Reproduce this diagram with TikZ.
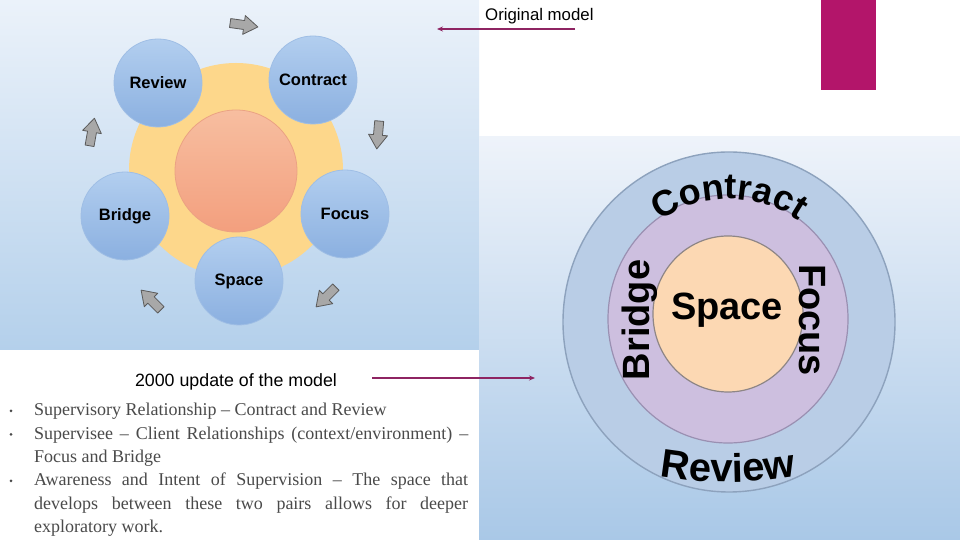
\documentclass[tikz,border=0pt]{standalone}
\usepackage{fontspec}
\setmainfont{Liberation Serif}
\setsansfont{Liberation Sans}
\usetikzlibrary{arrows.meta,decorations.text,calc,shapes.geometric}
\definecolor{leftTop}{HTML}{EBF2FA}
\definecolor{leftBot}{HTML}{B4D0EB}
\definecolor{rightTop}{HTML}{EEF3FA}
\definecolor{rightBot}{HTML}{A9C8E7}
\definecolor{magbar}{HTML}{B3156A}
\definecolor{arrowc}{HTML}{8E2462}
\definecolor{sunc}{HTML}{FDD78B}
\definecolor{coreTop}{HTML}{F7BEA0}
\definecolor{coreBot}{HTML}{F39F7E}
\definecolor{coreD}{HTML}{EBA283}
\definecolor{blueTop}{HTML}{B2CEEF}
\definecolor{blueBot}{HTML}{8BB0E0}
\definecolor{blueD}{HTML}{9FBEE5}
\definecolor{garrowF}{HTML}{A8A8A8}
\definecolor{garrowD}{HTML}{5A5A5A}
\definecolor{ringBlue}{HTML}{B9CDE6}
\definecolor{ringBlueD}{HTML}{8DA2BD}
\definecolor{ringPurple}{HTML}{CDBFDF}
\definecolor{ringPurpleD}{HTML}{9A90B2}
\definecolor{ringOrange}{HTML}{FCD8B3}
\definecolor{ringOrangeD}{HTML}{8E8686}
\definecolor{textgray}{HTML}{4A4A4A}
\begin{document}
\begin{tikzpicture}[x=1pt,y=1pt,
  bluec/.style={circle, minimum size=88pt, inner sep=0pt, top color=blueTop, bottom color=blueBot, draw=blueD, line width=0.8pt, font=\sffamily\bfseries\fontsize{16.5}{17}\selectfont},
  garrow/.style={fill=garrowF, draw=garrowD, line width=0.8pt, line join=round},
  bigword/.style={font=\sffamily\bfseries\fontsize{38}{40}\selectfont},
  bullettext/.style={text width=434pt, align=justify, inner sep=0pt, text=textgray, font=\fontsize{18}{23.3}\selectfont, execute at begin node={\hyphenpenalty=10000\exhyphenpenalty=10000\relax}},
  bulletdot/.style={circle, fill=textgray, inner sep=0pt, minimum size=3pt},
  pointer/.style={draw=arrowc, line width=1.5pt, -{Stealth[length=6pt,width=5pt]}},
  caption/.style={inner sep=0pt, font=\sffamily}
]
\useasboundingbox (0,0) rectangle (960,540);
\fill[white] (0,0) rectangle (960,540);
% backgrounds
\shade[top color=leftTop, bottom color=leftBot] (0,190) rectangle (479,540);
\shade[top color=rightTop, bottom color=rightBot] (479,0) rectangle (960,403);
\fill[magbar] (821,450) rectangle (876,540);

% ---------- original model ----------
\node[circle, minimum size=214pt, inner sep=0pt, fill=sunc] (sun) at (236,370) {};
\node[circle, minimum size=122pt, inner sep=0pt, top color=coreTop, bottom color=coreBot, draw=coreD, line width=0.8pt] (core) at (236,369) {};
\node[bluec] (review) at (158,457) {Review};
\node[bluec] (contract) at (313,460) {Contract};
\node[bluec] (bridge) at (125,324) {Bridge};
\node[bluec] (focus) at (345,326) {Focus};
\node[bluec] (space) at (239,259) {Space};

% grey cycle arrows
\foreach \px/\py/\ang in {244/515/-8, 378/405/-95, 326/243/-135, 151/240/135, 92/408/80}{
  \draw[garrow, shift={(\px,\py)}, rotate=\ang]
    (-14,-4.5) -- (0,-4.5) -- (0,-9.5) -- (14,0) -- (0,9.5) -- (0,4.5) -- (-14,4.5) -- cycle;
}

% ---------- 2000 update ----------
\node[ellipse, minimum width=332pt, minimum height=340pt, inner sep=0pt, fill=ringBlue, draw=ringBlueD, line width=1.4pt] (outer) at (729,218) {};
\node[ellipse, minimum width=240pt, minimum height=248pt, inner sep=0pt, fill=ringPurple, draw=ringPurpleD, line width=1.2pt] (middle) at (728,221) {};
\node[ellipse, minimum width=150pt, minimum height=156pt, inner sep=0pt, fill=ringOrange, draw=ringOrangeD, line width=1.2pt] (inner) at (728,226) {};
\node[bigword, inner sep=0pt] (spaceword) at (727,230) {Space};
\node[bigword, inner sep=0pt, rotate=90] (bridgeword) at (640,220) {Bridge};
\node[bigword, inner sep=0pt, rotate=-90] (focusword) at (812,220) {Focus};
\path[decorate, decoration={text along path, text align=center,
  text={|\sffamily\bfseries\fontsize{36}{36}\selectfont|Contract}}]
  ($(729,218)+(165:123)$) arc[start angle=165, end angle=15, radius=123];
\path[decorate, decoration={text along path, text align=center,
  text={|\sffamily\bfseries\fontsize{40}{40}\selectfont|Review}}]
  ($(728,458)+(255:400)$) arc[start angle=255, end angle=285, radius=400];

% ---------- captions and pointers ----------
\node[caption, anchor=base west, font=\sffamily\fontsize{16.8}{18}\selectfont] (orig) at (485,519) {Original model};
\coordinate (origtail) at (575,511);
\coordinate (origtip) at (437,511);
\draw[pointer] (origtail) -- (origtip);

\node[caption, anchor=base, font=\sffamily\fontsize{17.8}{19}\selectfont] (upd) at (236,153.5) {2000 update of the model};
\coordinate (updtail) at (372,162);
\coordinate (updtip) at (535,162);
\draw[pointer] (updtail) -- (updtip);

% ---------- bullets ----------
\node[bullettext, anchor=base west] (b1) at (34,124) {Supervisory Relationship – Contract and Review};
\node[bullettext, anchor=base west] (b2) at (34,100.7) {Supervisee – Client Relationships (context/environment) – Focus and Bridge};
\node[bullettext, anchor=base west] (b3) at (34,54.1) {Awareness and Intent of Supervision – The space that develops between these two pairs allows for deeper exploratory work.};
\node[bulletdot] (d1) at (11,129) {};
\node[bulletdot] (d2) at (11,105.7) {};
\node[bulletdot] (d3) at (11,59.1) {};
\end{tikzpicture}
\end{document}
